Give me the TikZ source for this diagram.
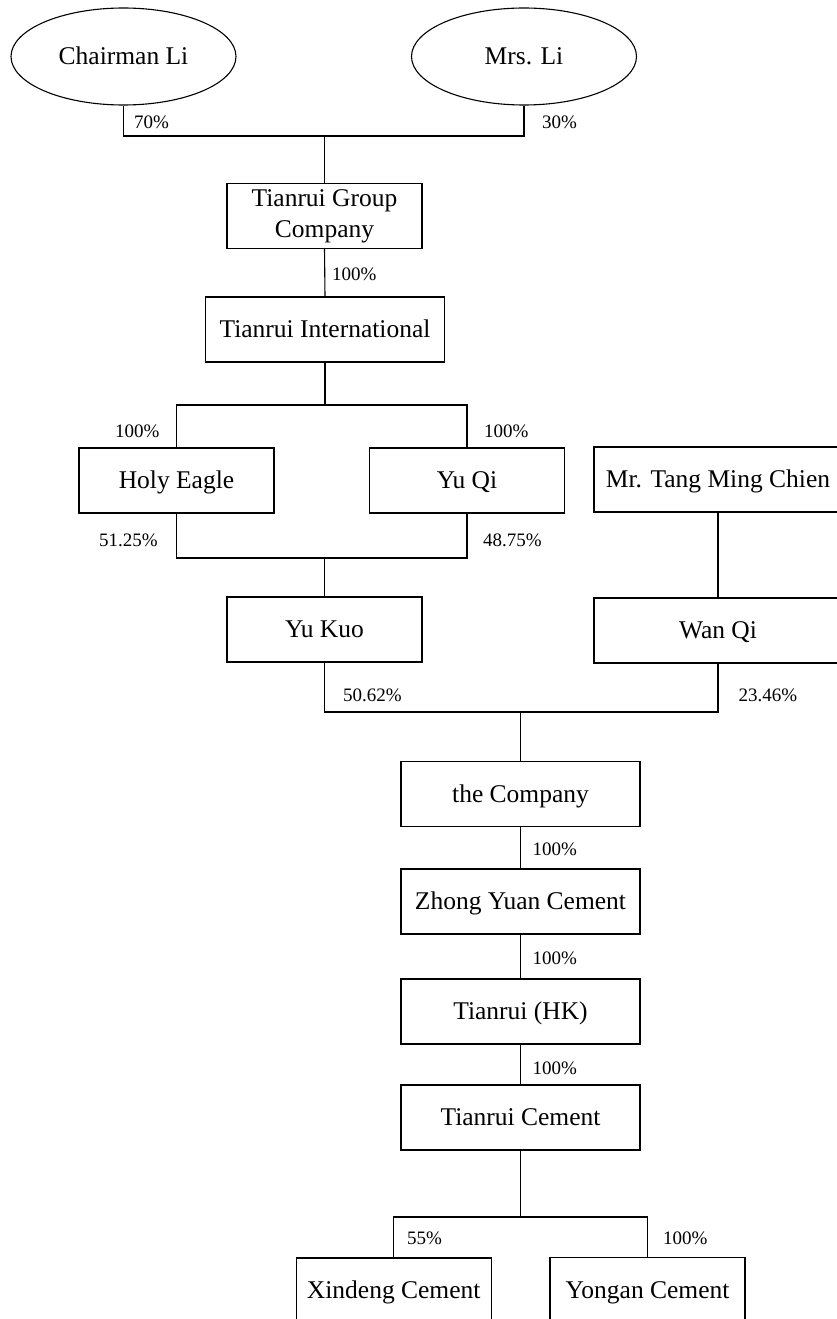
\documentclass[tikz,border=0pt]{standalone}
\usepackage{fontspec}
\setmainfont{Liberation Serif}
\usetikzlibrary{shapes.geometric}
\begin{document}
\begin{tikzpicture}[x=1pt,y=-1pt,
  box/.style={draw, line width=1.1pt, minimum height=65pt, inner sep=0pt, font=\fontsize{25.5}{31}\selectfont, align=center},
  oneline/.style={text height=16.8pt, text depth=0pt},
  oval/.style={draw, ellipse, line width=1.1pt, minimum width=225pt, minimum height=97pt, inner sep=0pt, font=\fontsize{25.5}{31}\selectfont, text height=16.8pt, text depth=0pt},
  pct/.style={anchor=west, inner sep=0pt, font=\fontsize{19}{22}\selectfont, text height=13pt, text depth=0pt},
  link/.style={line width=1.1pt}]
\useasboundingbox (0,0) rectangle (837,1319);

% nodes
\node[oval] (chair) at (123.5,56.5) {Chairman Li};
\node[oval] (mrs) at (524,56.5) {Mrs. Li};
\node[box, minimum width=195pt] (tgc) at (324.5,216) {Tianrui Group\\Company};
\node[box, oneline, minimum width=239.5pt] (ti) at (325,329.5) {Tianrui International};
\node[box, oneline, minimum width=195pt] (holy) at (176.5,480.5) {Holy Eagle};
\node[box, oneline, minimum width=195pt] (yuqi) at (467,480.5) {Yu Qi};
\node[box, oneline, minimum width=248pt] (tang) at (718,479.5) {Mr. Tang Ming Chien};
\node[box, oneline, minimum width=195pt] (yukuo) at (324.5,629.5) {Yu Kuo};
\node[box, oneline, minimum width=248pt] (wanqi) at (718,630.5) {Wan Qi};
\node[box, oneline, minimum width=239pt] (comp) at (520.5,794) {the Company};
\node[box, oneline, minimum width=239pt] (zy) at (520.5,901.5) {Zhong Yuan Cement};
\node[box, oneline, minimum width=239pt] (hk) at (520.5,1011.5) {Tianrui (HK)};
\node[box, oneline, minimum width=239pt] (tc) at (520.5,1117.5) {Tianrui Cement};
\node[box, oneline, minimum width=195pt] (xin) at (393.7,1290.5) {Xindeng Cement};
\node[box, oneline, minimum width=195pt] (yong) at (647.5,1290) {Yongan Cement};

% junctions
\coordinate (j1) at (324.5,136);
\coordinate (j2) at (325,405);
\coordinate (j3) at (324.5,558);
\coordinate (j4) at (520.5,712);
\coordinate (j5) at (520.5,1217);

% connectors
\draw[link] (chair.south) |- (j1);
\draw[link] (mrs.south) |- (j1);
\draw[link] (j1) -- (tgc.north);
\draw[link] (tgc.south) -- (ti.north);
\draw[link] (ti.south) -- (j2);
\draw[link] (j2) -| (holy.north);
\draw[link] (j2) -| (yuqi.north);
\draw[link] (holy.south) |- (j3);
\draw[link] (yuqi.south) |- (j3);
\draw[link] (j3) -- (yukuo.north);
\draw[link] (tang.south) -- (wanqi.north);
\draw[link] (yukuo.south) |- (j4);
\draw[link] (wanqi.south) |- (j4);
\draw[link] (j4) -- (comp.north);
\draw[link] (comp.south) -- (zy.north);
\draw[link] (zy.south) -- (hk.north);
\draw[link] (hk.south) -- (tc.north);
\draw[link] (tc.south) -- (j5);
\draw[link] (j5) -| (xin.north);
\draw[link] (j5) -| (yong.north);

% labels
\node[pct] (l1) at (134,122) {70\%};
\node[pct] (l2) at (542,122) {30\%};
\node[pct] (l3) at (332,274) {100\%};
\node[pct] (l4) at (115,431) {100\%};
\node[pct] (l5) at (484,431) {100\%};
\node[pct] (l6) at (99,540) {51.25\%};
\node[pct] (l7) at (483,540) {48.75\%};
\node[pct] (l8) at (343,695) {50.62\%};
\node[pct] (l9) at (738.5,695) {23.46\%};
\node[pct] (l10) at (532.5,849) {100\%};
\node[pct] (l11) at (532.5,958) {100\%};
\node[pct] (l12) at (532.5,1068) {100\%};
\node[pct] (l13) at (407,1238) {55\%};
\node[pct] (l14) at (663,1238) {100\%};
\end{tikzpicture}
\end{document}
